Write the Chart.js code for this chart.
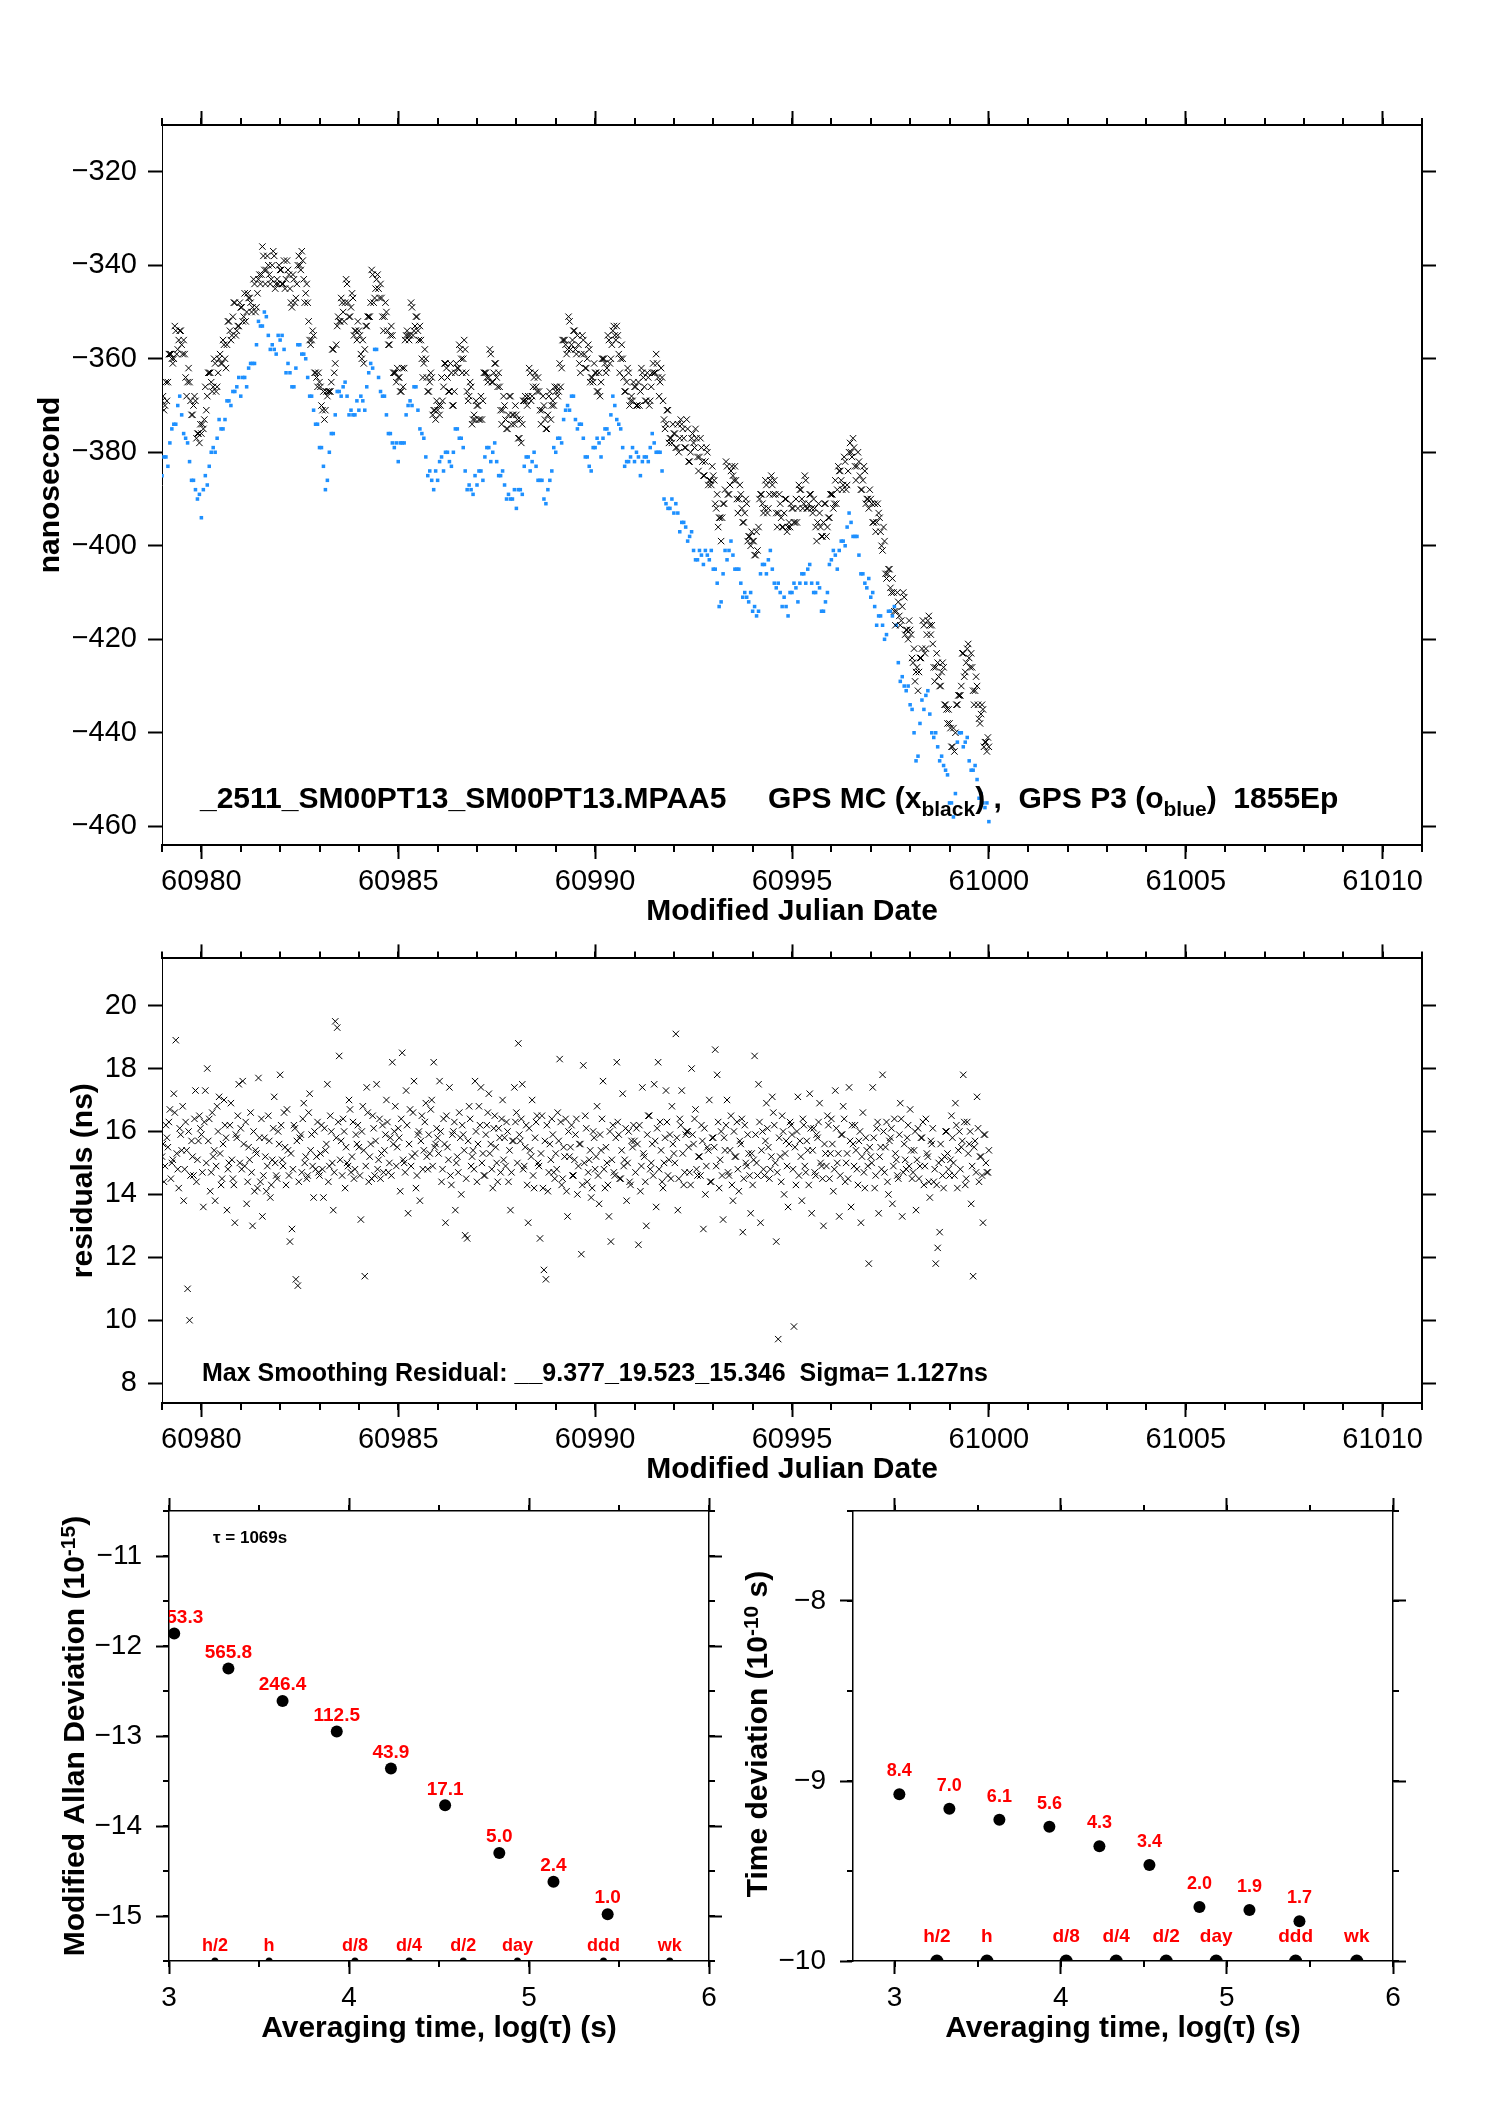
<!DOCTYPE html>
<html>
<head>
<meta charset="utf-8">
<script src="https://cdn.jsdelivr.net/npm/chart.js@4.4.1/dist/chart.umd.min.js"></script>
<style>
  html, body { margin: 0; padding: 0; background: #fff; }
  body { width: 1488px; height: 2105px; position: relative; overflow: hidden; }
  canvas { position: absolute; }
</style>
</head>
<body>
<canvas id="clock" width="1488" height="940" style="left:0;top:0"></canvas>
<canvas id="resid" width="1488" height="570" style="left:0;top:930px"></canvas>
<canvas id="adev" width="760" height="625" style="left:0;top:1480px"></canvas>
<canvas id="tdev" width="768" height="625" style="left:720px;top:1480px"></canvas>
<script>
const FONT = "'Liberation Sans', Arial, Helvetica, sans-serif";

// --- clock offsets (ns), sampled every step days from mjdStart ---
const mjdStart = 60979.0;
const mcStep = 0.05;
const gpsMc = [
  -369,-371,-365,-365,-359,-360,-360,-354,-358,-354,-357,-356,-364,-365,-365,-372,-370,-369,-376,-378,
  -376,-375,-366,-368,-363,-365,-366,-361,-366,-360,-361,-356,-360,-357,-352,-356,-351,-348,-354,-353,
  -349,-352,-346,-350,-347,-348,-349,-344,-349,-343,-344,-336,-341,-341,-340,-344,-340,-338,-344,-344,
  -341,-344,-339,-343,-341,-345,-349,-343,-347,-340,-340,-337,-343,-346,-348,-356,-356,-355,-363,-366,
  -365,-370,-367,-371,-368,-367,-365,-358,-361,-353,-352,-347,-350,-348,-344,-351,-349,-347,-354,-356,
  -354,-359,-356,-358,-353,-351,-348,-342,-347,-343,-345,-344,-351,-351,-350,-357,-355,-355,-363,-365,
  -364,-367,-362,-362,-355,-355,-355,-349,-354,-351,-354,-353,-360,-361,-360,-367,-365,-364,-371,-373,
  -371,-372,-364,-366,-361,-364,-367,-363,-370,-363,-362,-357,-360,-360,-358,-367,-368,-366,-373,-373,
  -370,-373,-368,-369,-363,-364,-364,-359,-365,-361,-364,-363,-371,-371,-370,-375,-372,-368,-372,-374,
  -372,-377,-373,-374,-369,-369,-368,-363,-368,-364,-366,-364,-371,-371,-370,-375,-372,-367,-370,-370,
  -367,-368,-361,-362,-356,-357,-358,-352,-357,-354,-358,-355,-361,-359,-356,-362,-360,-358,-364,-365,
  -363,-367,-363,-365,-360,-361,-362,-356,-360,-354,-355,-353,-359,-360,-360,-367,-365,-363,-369,-369,
  -366,-370,-365,-367,-363,-366,-369,-364,-369,-363,-363,-359,-364,-365,-364,-373,-374,-371,-377,-378,
  -376,-379,-374,-377,-374,-377,-379,-375,-382,-377,-378,-375,-381,-381,-379,-385,-382,-380,-386,-387,
  -385,-391,-389,-394,-399,-391,-388,-383,-389,-384,-385,-383,-390,-390,-389,-395,-393,-391,-398,-400,
  -399,-402,-397,-396,-389,-391,-392,-387,-392,-386,-387,-386,-393,-393,-391,-396,-393,-390,-396,-396,
  -392,-395,-390,-392,-388,-390,-391,-386,-392,-389,-392,-390,-396,-395,-393,-398,-395,-391,-396,-394,
  -389,-392,-386,-388,-384,-386,-387,-382,-387,-380,-380,-377,-383,-383,-382,-388,-386,-384,-390,-392,
  -390,-395,-391,-395,-393,-397,-401,-399,-407,-405,-409,-407,-414,-414,-412,-417,-413,-411,-418,-420,
  -418,-424,-422,-427,-431,-424,-422,-417,-422,-416,-417,-417,-426,-426,-425,-430,-427,-426,-434,-438,
  -438,-443,-439,-440,-434,-432,-430,-423,-427,-422,-424,-423,-431,-431,-430,-437,-436,-435,-442,-444,
  -443
];
// interleaved GPS MC samples, half a step later
const mcOffset = 0.025;
const gpsMcB = [
  -368,-370,-369,-359,-359,-361,-353,-359,-356,-354,-359,-359,-368,-362,-369,-372,-368,-377,-376,-374,
  -374,-373,-371,-363,-363,-367,-360,-367,-363,-359,-361,-357,-362,-352,-354,-355,-348,-355,-353,-348,
  -349,-351,-352,-346,-347,-350,-343,-350,-346,-342,-342,-338,-344,-338,-342,-343,-337,-345,-343,-340,
  -341,-344,-345,-339,-342,-348,-342,-348,-344,-338,-341,-339,-348,-344,-352,-357,-354,-363,-364,-363,
  -366,-371,-373,-367,-367,-367,-358,-363,-357,-351,-352,-348,-352,-343,-348,-351,-346,-355,-354,-352,
  -355,-360,-361,-353,-351,-351,-341,-348,-345,-342,-347,-347,-354,-348,-354,-357,-353,-363,-363,-362,
  -364,-367,-366,-356,-354,-356,-348,-355,-353,-351,-356,-356,-364,-358,-364,-367,-363,-372,-371,-369,
  -370,-370,-369,-361,-362,-367,-361,-370,-367,-361,-362,-358,-363,-356,-363,-369,-365,-374,-372,-369,
  -370,-373,-373,-363,-363,-365,-358,-365,-363,-361,-366,-366,-374,-368,-373,-375,-368,-374,-372,-370,
  -373,-377,-378,-369,-368,-370,-362,-369,-366,-363,-367,-367,-374,-368,-373,-375,-368,-373,-369,-366,
  -366,-367,-366,-356,-356,-359,-351,-358,-356,-354,-359,-357,-363,-355,-359,-362,-357,-365,-364,-361,
  -363,-367,-368,-360,-360,-363,-355,-361,-357,-353,-356,-355,-363,-357,-364,-367,-362,-370,-368,-365,
  -366,-370,-370,-362,-364,-369,-363,-370,-366,-361,-363,-361,-368,-362,-369,-375,-371,-378,-377,-374,
  -376,-379,-380,-373,-375,-379,-373,-382,-380,-376,-379,-377,-384,-377,-382,-385,-379,-387,-386,-383,
  -386,-392,-396,-394,-394,-391,-382,-389,-387,-383,-386,-386,-393,-387,-392,-395,-390,-399,-398,-397,
  -399,-402,-401,-390,-389,-393,-386,-393,-389,-385,-389,-389,-396,-389,-394,-396,-390,-397,-395,-391,
  -392,-395,-395,-387,-388,-392,-385,-392,-391,-389,-393,-392,-399,-391,-396,-398,-391,-398,-394,-389,
  -389,-391,-391,-383,-384,-388,-381,-388,-384,-378,-381,-379,-386,-380,-385,-388,-383,-391,-390,-388,
  -391,-395,-397,-391,-394,-400,-396,-406,-406,-405,-410,-410,-417,-410,-415,-416,-410,-419,-418,-416,
  -419,-425,-429,-426,-427,-424,-416,-423,-419,-415,-419,-421,-429,-423,-428,-430,-425,-434,-435,-435,
  -439,-443,-444,-434,-432,-432,-423,-428,-425,-421,-426,-426,-434,-428,-434,-438,-434,-443,-442,-441
];
const p3Step = 0.1;
const gpsP3 = [
  -385,-381,-378,-374,-370,-372,-377,-382,-386,-390,
  -394,-385,-383,-379,-377,-375,-373,-369,-367,-366,
  -368,-364,-362,-361,-357,-353,-350,-355,-357,-359,
  -356,-358,-361,-366,-362,-357,-359,-364,-368,-374,
  -379,-383,-386,-376,-372,-367,-366,-368,-371,-372,
  -371,-369,-366,-361,-358,-364,-368,-372,-376,-379,
  -382,-378,-372,-369,-366,-371,-376,-381,-384,-388,
  -386,-381,-380,-382,-380,-375,-377,-384,-387,-389,
  -387,-384,-381,-379,-380,-382,-385,-387,-389,-390,
  -392,-388,-383,-381,-382,-383,-386,-390,-388,-384,
  -380,-377,-373,-370,-368,-373,-374,-377,-381,-384,
  -379,-378,-377,-375,-372,-370,-374,-379,-382,-381,
  -382,-381,-382,-381,-379,-378,-380,-384,-391,-392,
  -393,-393,-395,-396,-398,-401,-403,-402,-401,-403,
  -405,-408,-412,-401,-401,-402,-405,-408,-410,-412,
  -414,-415,-406,-404,-403,-405,-409,-410,-411,-415,
  -410,-409,-408,-406,-405,-408,-410,-409,-414,-410,
  -403,-402,-401,-399,-396,-395,-398,-402,-406,-409,
  -411,-413,-415,-417,-419,-414,-413,-425,-428,-431,
  -434,-440,-445,-433,-432,-436,-441,-443,-445,-448,
  -455,-458,-442,-440,-442,-446,-448,-450,-453,-456,
  -459
];
const p3Offset = 0.05;
const gpsP3B = [
  -381,-383,-375,-374,-368,-376,-378,-386,-388,-389,
  -388,-387,-380,-380,-373,-375,-369,-370,-367,-364,
  -364,-366,-361,-361,-352,-353,-351,-358,-358,-355,
  -355,-363,-363,-366,-357,-359,-360,-368,-371,-374,
  -379,-388,-380,-376,-367,-368,-365,-372,-372,-369,
  -368,-371,-363,-362,-358,-367,-368,-376,-378,-378,
  -378,-378,-370,-370,-366,-375,-377,-385,-386,-384,
  -382,-384,-380,-383,-375,-377,-379,-388,-388,-385,
  -384,-386,-379,-382,-378,-385,-384,-390,-390,-388,
  -388,-389,-381,-384,-380,-386,-386,-391,-386,-379,
  -377,-378,-371,-371,-368,-375,-374,-381,-383,-379,
  -377,-381,-375,-376,-368,-373,-375,-383,-382,-379,
  -380,-385,-381,-382,-376,-380,-380,-390,-392,-390,
  -391,-397,-395,-399,-397,-403,-401,-404,-402,-401,
  -405,-413,-406,-403,-399,-405,-405,-411,-411,-410,
  -413,-414,-404,-406,-401,-408,-408,-413,-413,-410,
  -408,-412,-406,-408,-404,-410,-408,-414,-412,-404,
  -401,-405,-399,-400,-393,-398,-398,-406,-408,-407,
  -410,-417,-415,-420,-414,-415,-417,-429,-430,-430,
  -435,-446,-438,-435,-431,-440,-440,-446,-447,-449,
  -455,-453,-440,-443,-441,-448,-447,-454,-455,-455
];

// --- smoothing residuals (ns) ---
const residStep = 0.05;
const residuals = [
  15.2,14.4,16.2,15.5,16.7,15.0,17.2,18.9,14.8,16.1,15.4,13.8,16.3,11.0,10.0,15.7,14.6,17.3,15.1,16.5,
  15.9,13.6,17.3,18.0,16.4,14.7,15.2,13.8,16.8,17.1,14.3,15.6,16.2,13.5,15.0,16.9,14.5,13.1,15.8,17.5,
  16.1,17.6,14.9,13.7,15.5,16.6,13.0,14.1,15.3,17.7,14.4,13.3,15.8,14.1,16.5,13.9,15.1,17.1,14.6,16.0,
  17.8,15.1,16.6,14.3,15.4,12.5,12.9,16.2,11.3,11.1,15.8,14.7,16.9,15.2,14.6,17.2,15.9,13.9,14.8,16.3,
  14.6,16.2,13.9,15.4,17.5,14.9,16.0,13.5,19.5,19.3,18.4,15.7,16.4,14.2,15.0,17.0,14.7,16.3,14.8,15.6,
  15.5,13.2,16.8,11.4,17.4,14.4,15.6,16.5,14.6,17.5,15.1,14.5,16.2,15.4,17.0,14.7,15.8,18.2,16.0,14.9,
  16.1,14.1,18.5,15.0,17.3,13.4,16.7,15.2,17.6,14.2,15.9,13.8,16.5,15.4,16.9,14.8,15.3,17.0,18.2,15.6,
  15.8,17.6,14.4,16.4,13.1,15.5,17.4,14.3,16.0,13.5,15.2,16.6,14.0,15.9,12.7,12.6,16.8,14.9,15.4,17.6,
  14.4,16.8,17.4,15.3,14.6,16.2,17.2,15.6,14.2,16.5,15.0,16.1,14.7,17.0,15.8,16.3,14.4,13.5,15.7,17.4,
  16.6,18.8,15.7,17.5,14.9,16.2,13.1,15.4,17.0,14.2,16.3,15.0,12.6,16.5,11.6,11.3,14.1,15.6,16.4,14.7,
  15.3,16.6,18.3,14.3,15.5,16.4,13.3,15.2,16.2,14.6,15.9,14.0,15.6,12.1,18.1,16.5,14.4,15.1,13.9,16.0,
  14.8,16.8,13.7,15.4,17.6,14.2,15.0,13.3,12.5,16.2,14.6,18.2,15.9,14.5,17.2,15.1,13.8,16.0,14.3,15.5,
  15.7,16.1,12.4,14.1,17.4,15.2,13.0,16.5,14.8,15.6,17.5,13.6,18.2,16.3,14.4,15.0,17.3,14.6,15.9,16.8,
  15.3,19.1,13.5,16.4,17.3,14.3,15.9,16.0,14.7,18.0,15.6,16.7,14.6,15.2,16.2,12.9,14.0,15.5,17.0,14.4,
  15.8,18.6,17.8,14.2,16.0,13.2,15.4,17.0,14.6,16.5,13.8,15.2,16.3,14.1,15.6,12.8,16.2,14.9,15.3,13.4,
  14.3,18.4,15.0,17.5,13.1,16.0,14.6,16.9,15.5,14.8,17.1,16.2,12.5,9.4,15.2,16.5,14.0,15.7,13.6,16.3,
  15.9,9.8,14.3,17.1,15.7,13.8,16.2,14.7,15.4,17.2,13.4,16.1,14.6,15.8,16.9,14.9,13.0,15.3,16.5,14.5,
  16.4,14.1,17.3,15.0,13.3,15.9,16.8,14.4,15.3,17.4,13.6,15.6,16.2,14.8,15.7,13.1,16.6,14.2,15.4,11.8,
  15.2,17.4,14.2,16.1,13.4,15.5,17.8,14.7,16.3,14.0,15.8,13.7,16.4,15.1,14.5,16.9,13.3,15.6,14.8,16.2,
  16.7,14.5,15.4,13.5,16.1,14.9,15.8,14.3,16.4,15.2,13.9,15.6,14.4,11.8,12.3,12.8,15.1,14.2,16.0,15.3,
  14.6,16.5,15.0,16.9,14.2,16.0,15.5,17.8,14.3,16.3,15.6,13.7,11.4,15.7,17.1,14.4,15.2,13.1,15.9,14.7,
  15.4
];
const residOffset = 0.025;
const residualsB = [
  15.6,14.9,15.8,16.3,14.5,15.1,16.6,15.3,14.2,15.9,16.8,14.8,15.4,16.0,14.6,15.2,16.4,14.4,15.7,16.1,
  14.7,16.3,15.0,15.7,14.1,16.6,15.4,14.9,16.0,15.3,14.5,17.0,15.8,14.8,16.2,15.1,14.3,15.9,16.5,15.0,
  14.8,15.6,16.3,14.4,15.1,14.7,16.0,15.4,14.2,15.8,16.4,14.6,15.2,14.9,15.7,14.3,16.1,15.0,14.5,15.6,
  16.2,14.9,15.5,16.7,14.6,15.3,14.8,16.1,15.7,14.4,15.9,16.4,15.0,14.5,16.6,15.4,14.9,16.0,15.2,14.7,
  15.3,14.8,16.1,15.6,14.4,16.5,15.0,14.7,15.8,16.3,15.1,14.6,16.0,15.5,14.9,16.7,15.2,14.5,15.9,16.2,
  14.6,16.0,15.4,14.9,16.6,15.2,14.5,16.1,15.7,14.8,16.4,15.3,14.7,15.9,16.3,15.0,14.6,15.6,16.8,15.5,
  15.8,16.4,15.1,14.7,16.2,15.6,14.9,16.6,15.3,14.6,16.0,15.7,14.8,16.3,15.2,15.9,16.7,14.9,15.5,16.1,
  15.3,16.0,14.8,15.6,16.5,15.1,14.6,15.9,16.3,15.0,14.7,15.8,16.2,15.4,14.5,15.7,16.4,15.2,14.8,16.0,
  15.6,16.2,15.0,14.6,15.9,16.6,15.3,14.8,16.1,15.5,14.4,15.8,16.4,15.1,14.9,16.0,15.4,14.7,15.7,16.3,
  15.0,15.9,16.4,14.8,15.5,14.3,16.1,15.2,14.6,15.8,16.5,14.9,15.3,14.2,15.7,16.2,14.7,15.1,15.9,14.5,
  14.8,15.7,16.3,14.5,15.2,14.1,16.0,15.5,14.6,15.1,16.4,14.9,15.6,14.3,15.0,16.1,14.7,15.4,14.2,15.8,
  15.2,14.6,15.9,16.4,14.8,15.5,14.3,16.0,15.1,14.7,15.8,16.3,14.5,15.4,14.9,16.1,15.0,14.4,15.7,16.2,
  14.7,15.6,16.2,14.9,15.3,14.4,15.9,16.5,15.0,14.6,15.7,16.1,14.8,15.4,14.2,15.8,16.3,15.1,14.5,15.6,
  15.0,15.8,14.5,16.2,15.3,14.7,16.0,15.5,14.3,15.9,16.4,14.8,15.2,14.6,15.7,16.1,14.9,15.4,14.4,15.8,
  15.5,14.9,16.3,15.1,14.6,15.8,16.2,14.7,15.4,14.3,16.0,15.2,14.8,15.7,16.4,14.5,15.0,15.9,14.6,15.3,
  15.1,15.9,14.6,16.3,15.4,14.8,15.7,16.1,14.5,15.2,16.6,15.0,14.7,15.8,14.4,16.0,15.3,14.9,15.6,16.2,
  14.8,15.5,16.0,14.6,15.2,16.4,14.9,15.7,14.3,16.1,15.4,14.7,15.9,16.3,15.0,14.5,15.6,14.9,16.2,15.3,
  15.6,14.8,16.1,15.3,14.6,15.9,16.4,15.0,14.5,15.7,16.2,14.9,15.4,14.3,16.0,15.2,14.7,15.8,14.9,15.5,
  15.0,15.8,14.6,16.3,15.2,14.8,16.0,15.5,14.4,15.7,16.1,14.9,15.3,14.6,15.9,16.4,14.7,15.1,15.8,14.9,
  15.4,14.7,16.0,15.1,14.5,15.8,16.3,14.9,15.3,14.4,15.7,16.1,14.8,14.3,15.0,15.6,14.6,15.2,16.0,14.8,
  15.1,15.8,14.6,16.2,15.4,14.8,15.7,16.3,14.5,15.3,16.0,14.9,15.5,14.7,16.1,15.2,14.6,15.9,15.0,14.7
];

// --- tick values ---
const mjdTicks = [60980, 60985, 60990, 60995, 61000, 61005, 61010];
const nsTicks = [-460, -440, -420, -400, -380, -360, -340, -320];
const residTicks = [8, 10, 12, 14, 16, 18, 20];
const logTauTicks = [3, 4, 5, 6];
const adevTicks = [-15, -14, -13, -12, -11];
const tdevTicks = [-10, -9, -8];

// --- stability ---
const logTau = [3.029, 3.330, 3.631, 3.932, 4.233, 4.534, 4.835, 5.136, 5.437];
const adevLog = [-11.86, -12.25, -12.61, -12.95, -13.36, -13.77, -14.30, -14.62, -14.98];
const adevNotes = ['1253.3', '565.8', '246.4', '112.5', '43.9', '17.1', '5.0', '2.4', '1.0'];
const tdevLog = [-9.074, -9.154, -9.215, -9.254, -9.362, -9.467, -9.700, -9.717, -9.779];
const tdevNotes = ['8.4', '7.0', '6.1', '5.6', '4.3', '3.4', '2.0', '1.9', '1.7'];
const markLogTau = [3.255, 3.556, 4.033, 4.334, 4.635, 4.936, 5.414, 5.782];
const markNames = ['h/2', 'h', 'd/8', 'd/4', 'd/2', 'day', 'ddd', 'wk'];

function series(values, start, step) {
  return values.map((v, i) => ({ x: start + i * step, y: v }));
}
function pairs(xs, ys) {
  return xs.map((x, i) => ({ x: x, y: Array.isArray(ys) ? ys[i] : ys }));
}

function axis(pos, min, max, ticks, size, o) {
  o = o || {};
  const horiz = pos === 'top' || pos === 'bottom';
  return {
    type: 'linear', position: pos, min: min, max: max,
    afterBuildTicks: s => { s.ticks = ticks.map(v => ({ value: v })); },
    afterFit: s => { if (horiz) s.height = size; else s.width = size; },
    border: { display: true, color: '#000', width: o.border || 2 },
    grid: { display: true, drawOnChartArea: false, drawTicks: true, tickLength: o.tick || 14, tickWidth: 2, tickColor: '#000' },
    ticks: {
      display: !!o.labels, autoSkip: false, maxRotation: 0, padding: o.pad || 0,
      color: '#000', font: { family: FONT, size: o.fs || 29 },
      callback: v => String(v).replace('-', '\u2212')
    },
    title: o.title ? {
      display: true, text: o.title, color: '#000',
      font: { family: FONT, size: 30, weight: 'bold' }, padding: o.tpad
    } : { display: false }
  };
}

function drawRich(ctx, item) {
  const size = item.size;
  ctx.save();
  ctx.translate(item.x, item.y);
  if (item.rotate) ctx.rotate(-Math.PI / 2);
  ctx.fillStyle = item.color || '#000';
  ctx.textBaseline = 'alphabetic';
  const spec = item.parts.map(p => {
    const s = (p.sub || p.sup) ? Math.round(size * 0.7) : size;
    const f = 'bold ' + s + 'px ' + FONT;
    ctx.font = f;
    return { t: p.t, f: f, w: ctx.measureText(p.t).width, dy: p.sub ? size * 0.27 : (p.sup ? -size * 0.3 : 0) };
  });
  let cx = item.align === 'center' ? -spec.reduce((s, p) => s + p.w, 0) / 2 : 0;
  spec.forEach(p => { ctx.font = p.f; ctx.fillText(p.t, cx, p.dy); cx += p.w; });
  ctx.restore();
}

// minor ticks, point notes, in-plot texts
const decor = {
  id: 'decor',
  afterDatasetsDraw(chart, args, o) {
    const ctx = chart.ctx, a = chart.chartArea;
    const xs = chart.scales.x, ys = chart.scales.y;
    ctx.save();
    ctx.strokeStyle = '#000';
    ctx.lineWidth = 2;
    ctx.beginPath();
    if (o.minorX) {
      for (let v = Math.ceil(xs.min / o.minorX - 1e-9) * o.minorX; v <= xs.max + 1e-9; v += o.minorX) {
        const p = Math.round(xs.getPixelForValue(v));
        ctx.moveTo(p, a.bottom); ctx.lineTo(p, a.bottom + o.minorLen);
        ctx.moveTo(p, a.top); ctx.lineTo(p, a.top - o.minorLen);
      }
    }
    if (o.minorY) {
      for (let v = Math.ceil(ys.min / o.minorY - 1e-9) * o.minorY; v <= ys.max + 1e-9; v += o.minorY) {
        const p = Math.round(ys.getPixelForValue(v));
        ctx.moveTo(a.left, p); ctx.lineTo(a.left - o.minorLen, p);
        ctx.moveTo(a.right, p); ctx.lineTo(a.right + o.minorLen, p);
      }
    }
    ctx.stroke();

    ctx.beginPath();
    ctx.rect(a.left, a.top, a.right - a.left, a.bottom - a.top);
    ctx.clip();
    ctx.textAlign = 'center';
    ctx.textBaseline = 'middle';
    ctx.fillStyle = '#ff0000';
    if (o.notes) {
      ctx.font = 'bold ' + o.notes.size + 'px ' + FONT;
      chart.getDatasetMeta(0).data.forEach((el, i) => {
        ctx.fillText(o.notes.texts[i], el.x, el.y - o.notes.dy);
      });
    }
    if (o.marks) {
      ctx.font = 'bold ' + o.marks.size + 'px ' + FONT;
      chart.getDatasetMeta(1).data.forEach((el, i) => {
        ctx.fillText(o.marks.texts[i], el.x, a.bottom - o.marks.dy);
      });
    }
    ctx.restore();
    (o.rich || []).forEach(item => drawRich(ctx, item));
  }
};

const base = {
  responsive: false, animation: false, devicePixelRatio: 1, events: [],
  layout: { padding: 0 }
};
function opts(scales, decorOpts) {
  return Object.assign({}, base, {
    scales: scales,
    plugins: { legend: { display: false }, tooltip: { enabled: false }, decor: decorOpts }
  });
}

// top: clock comparison
new Chart(document.getElementById('clock'), {
  type: 'scatter',
  data: { datasets: [
    { data: series(gpsMc, mjdStart, mcStep).concat(series(gpsMcB, mjdStart + mcOffset, mcStep)),
      pointStyle: 'crossRot', pointRadius: 4.5,
      pointBorderWidth: 1, pointBorderColor: '#000', pointBackgroundColor: 'rgba(0,0,0,0)' },
    { data: series(gpsP3, mjdStart, p3Step).concat(series(gpsP3B, mjdStart + p3Offset, p3Step)),
      pointStyle: 'rect', pointRadius: 2.5,
      pointBorderWidth: 0, pointBackgroundColor: '#1e90ff' }
  ] },
  options: opts({
    x: axis('bottom', 60979, 61011, mjdTicks, 95, { labels: true, pad: 6, title: 'Modified Julian Date', tpad: { top: 0, bottom: 10 } }),
    x2: axis('top', 60979, 61011, mjdTicks, 125, {}),
    y: axis('left', -464, -310, nsTicks, 162, { labels: true, pad: 11, border: 1, title: 'nanosecond', tpad: { top: 33, bottom: 0 } }),
    y2: axis('right', -464, -310, nsTicks, 66, {})
  }, {
    minorX: 1, minorLen: 7,
    rich: [{ x: 200, y: 808, size: 30, parts: [
      { t: '_2511_SM00PT13_SM00PT13.MPAA5     GPS MC (x' }, { t: 'black', sub: true },
      { t: ') ,  GPS P3 (o' }, { t: 'blue', sub: true }, { t: ')  1855Ep' }
    ] }]
  }),
  plugins: [decor]
});

// middle: residuals
new Chart(document.getElementById('resid'), {
  type: 'scatter',
  data: { datasets: [
    { data: series(residuals, mjdStart, residStep).concat(series(residualsB, mjdStart + residOffset, residStep)),
      pointStyle: 'crossRot', pointRadius: 4.5,
      pointBorderWidth: 1, pointBorderColor: '#000', pointBackgroundColor: 'rgba(0,0,0,0)' }
  ] },
  options: opts({
    x: axis('bottom', 60979, 61011, mjdTicks, 97, { labels: true, pad: 6, title: 'Modified Julian Date', tpad: { top: 0, bottom: 12 } }),
    x2: axis('top', 60979, 61011, mjdTicks, 23, {}),
    y: axis('left', 7.37, 21.5, residTicks, 162, { labels: true, pad: 11, border: 1, title: 'residuals (ns)', tpad: { top: 66, bottom: 0 } }),
    y2: axis('right', 7.37, 21.5, residTicks, 66, {})
  }, {
    minorX: 1, minorLen: 7,
    rich: [{ x: 202, y: 451, size: 25, parts: [
      { t: 'Max Smoothing Residual: __9.377_19.523_15.346  Sigma= 1.127ns' }
    ] }]
  }),
  plugins: [decor]
});

// bottom left: modified Allan deviation
new Chart(document.getElementById('adev'), {
  type: 'scatter',
  data: { datasets: [
    { data: pairs(logTau, adevLog), pointStyle: 'circle', pointRadius: 6, pointBorderWidth: 0, pointBackgroundColor: '#000' },
    { data: pairs(markLogTau, -15.5), pointStyle: 'circle', pointRadius: 3.5, pointBorderWidth: 0, pointBackgroundColor: '#000', clip: 0 }
  ] },
  options: opts({
    x: axis('bottom', 3, 6, logTauTicks, 144, { labels: true, pad: 7, fs: 28, tick: 13, border: 1.5, title: 'Averaging time, log(\u03c4) (s)', tpad: { top: 0, bottom: 58 } }),
    x2: axis('top', 3, 6, logTauTicks, 31, { tick: 13, border: 1.5 }),
    y: axis('left', -15.5, -10.5, adevTicks, 169, { labels: true, pad: 14, fs: 28, tick: 13, border: 1.5 }),
    y2: axis('right', -15.5, -10.5, adevTicks, 51, { tick: 13, border: 1.5 })
  }, {
    minorX: 0.5, minorY: 0.5, minorLen: 6,
    notes: { texts: adevNotes, dy: 16, size: 19 },
    marks: { texts: markNames, dy: 15, size: 18 },
    rich: [
      { x: 213, y: 63, size: 17, parts: [{ t: '\u03c4 = 1069s' }] },
      { x: 84, y: 256, size: 30, rotate: true, align: 'center', parts: [
        { t: 'Modified Allan Deviation (10' }, { t: '-15', sup: true }, { t: ')' }
      ] }
    ]
  }),
  plugins: [decor]
});

// bottom right: time deviation
new Chart(document.getElementById('tdev'), {
  type: 'scatter',
  data: { datasets: [
    { data: pairs(logTau, tdevLog), pointStyle: 'circle', pointRadius: 6, pointBorderWidth: 0, pointBackgroundColor: '#000' },
    { data: pairs(markLogTau, -10), pointStyle: 'circle', pointRadius: 6.5, pointBorderWidth: 0, pointBackgroundColor: '#000', clip: 0 }
  ] },
  options: opts({
    x: axis('bottom', 2.75, 6, logTauTicks, 144, { labels: true, pad: 7, fs: 28, tick: 13, border: 1.5, title: 'Averaging time, log(\u03c4) (s)', tpad: { top: 0, bottom: 58 } }),
    x2: axis('top', 2.75, 6, logTauTicks, 31, { tick: 13, border: 1.5 }),
    y: axis('left', -10, -7.5, tdevTicks, 133, { labels: true, pad: 14, fs: 28, tick: 13, border: 1.5 }),
    y2: axis('right', -10, -7.5, tdevTicks, 95, { tick: 13, border: 1.5 })
  }, {
    minorX: 0.5, minorY: 0.5, minorLen: 6,
    notes: { texts: tdevNotes, dy: 23, size: 18 },
    marks: { texts: markNames, dy: 24, size: 19 },
    rich: [
      { x: 47, y: 254, size: 30, rotate: true, align: 'center', parts: [
        { t: 'Time deviation (10' }, { t: '-10', sup: true }, { t: ' s)' }
      ] }
    ]
  }),
  plugins: [decor]
});
</script>
</body>
</html>
